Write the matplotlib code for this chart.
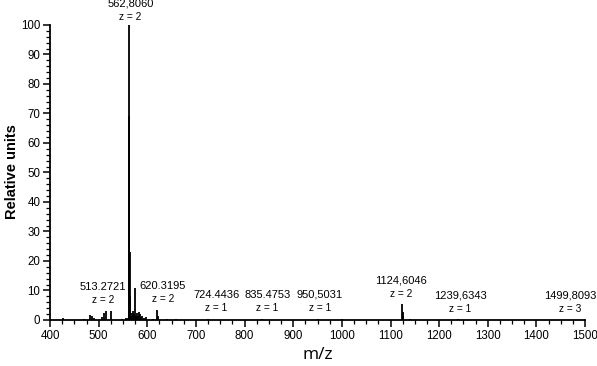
import matplotlib
matplotlib.use("Agg")
import matplotlib.pyplot as plt
from matplotlib.ticker import MultipleLocator

# Peak list (m/z, relative intensity)
peak_mz = [427.4, 470.0, 482.0, 485.7, 490.0, 506.0, 511.7, 514.4, 525.4, 548.0, 556.0, 559.5,
           562.8, 563.3, 563.8, 564.3, 566.0, 568.5, 570.5, 572.3, 574.3, 576.0, 578.5, 580.5,
           582.5, 584.5, 587.0, 590.0, 594.0, 598.0, 612.0, 620.3, 621.0, 640.0, 660.0,
           724.4, 835.5, 950.5, 1000.0, 1124.6, 1125.1, 1125.6, 1126.5, 1140.0, 1239.6, 1499.8]
peak_int = [0.7, 0.4, 1.7, 1.5, 0.6, 1.0, 2.5, 3.2, 3.0, 0.4, 0.6, 0.8,
            100.0, 69.0, 23.0, 8.0, 1.5, 2.5, 3.0, 2.0, 11.0, 1.5, 2.5, 1.2,
            2.6, 2.2, 1.0, 1.4, 0.8, 0.9, 0.4, 3.4, 1.2, 0.4, 0.3,
            0.4, 0.3, 0.5, 0.3, 5.4, 2.6, 1.2, 0.6, 0.3, 0.4, 0.3]

# Annotations: text, z label, label centre (m/z), label base level (relative units)
ann_text = ["562,8060", "513.2721", "620.3195", "724.4436", "835.4753",
            "950,5031", "1124,6046", "1239,6343", "1499,8093"]
ann_z = ["z = 2", "z = 2", "z = 2", "z = 1", "z = 1", "z = 1", "z = 2", "z = 1", "z = 3"]
ann_x = [565, 509, 632, 742, 847, 955, 1122, 1243, 1470]
ann_y = [100.5, 4.5, 5.0, 1.8, 1.8, 2.0, 6.8, 1.6, 1.6]

fig = plt.figure(figsize=(5.97, 3.66), dpi=100)
ax = fig.add_axes([0.0838, 0.1257, 0.98 - 0.0838, 0.9317 - 0.1257])

ax.vlines(peak_mz, 0, peak_int, color="black", lw=1.3)

for t, z, x, y in zip(ann_text, ann_z, ann_x, ann_y):
    ax.annotate(z, (x, y), xytext=(0, 1), textcoords="offset points",
                ha="center", va="bottom", fontsize=7.3, family="Liberation Sans",
                annotation_clip=False)
    ax.annotate(t, (x, y), xytext=(0, 10.5), textcoords="offset points",
                ha="center", va="bottom", fontsize=8, family="Liberation Sans",
                annotation_clip=False)

ax.set_xlim(400, 1500)
ax.set_ylim(0, 100)
ax.xaxis.set_major_locator(MultipleLocator(100))
ax.xaxis.set_minor_locator(MultipleLocator(25))
ax.yaxis.set_major_locator(MultipleLocator(10))
ax.yaxis.set_minor_locator(MultipleLocator(2))

for s in ["top", "right"]:
    ax.spines[s].set_visible(False)
for s in ["left", "bottom"]:
    ax.spines[s].set_linewidth(1.3)

ax.tick_params(which="major", length=5, width=1.1, labelsize=8.3, pad=2)
ax.tick_params(which="minor", length=3, width=0.9)
for lab in ax.get_xticklabels() + ax.get_yticklabels():
    lab.set_family("Liberation Sans")

fig.text(12.5 / 597, 1 - 172 / 366, "Relative units", rotation=90, ha="center",
         va="center", fontsize=10.5, fontweight="bold", family="Liberation Sans")
ax.set_xlabel("m/z", fontsize=12.5, family="Open Sans", labelpad=4)

fig.savefig("out.png", dpi=100)
